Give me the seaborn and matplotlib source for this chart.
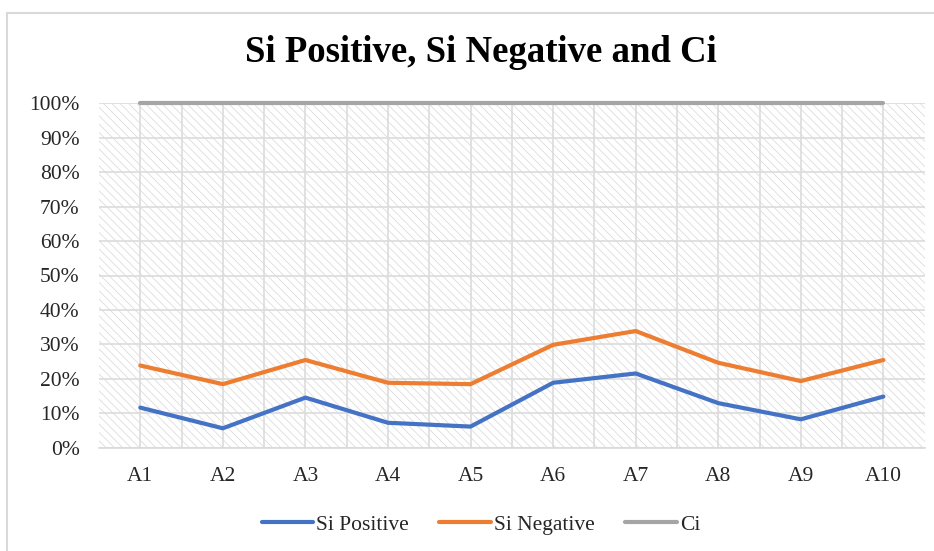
import pandas as pd
import seaborn as sns
import matplotlib.pyplot as plt
from matplotlib.patches import Rectangle
from matplotlib.lines import Line2D
from matplotlib.ticker import PercentFormatter, FixedLocator

plt.switch_backend("AGG")

categories = ["A1", "A2", "A3", "A4", "A5", "A6", "A7", "A8", "A9", "A10"]
si_positive = [11.7, 5.7, 14.6, 7.3, 6.2, 18.9, 21.6, 13.0, 8.3, 14.9]
si_negative = [23.9, 18.5, 25.5, 18.9, 18.5, 29.9, 33.9, 24.7, 19.4, 25.5]
ci = [100, 100, 100, 100, 100, 100, 100, 100, 100, 100]

series_names = ["Si Positive", "Si Negative", "Ci"]
colors = ["#4472C4", "#ED7D31", "#A5A5A5"]

df = pd.DataFrame({"Alt": categories, "Si Positive": si_positive,
                   "Si Negative": si_negative, "Ci": ci})
long_df = df.melt(id_vars="Alt", var_name="series", value_name="value")

sns.set_style("white")
plt.rcParams["font.family"] = ["Liberation Serif", "DejaVu Serif"]
plt.rcParams["hatch.linewidth"] = 0.5
plt.rcParams["hatch.color"] = "#D6D6D6"

fig = plt.figure(figsize=(9.34, 5.51), dpi=100)
ax = fig.add_axes([0.106, 0.187, 0.884, 0.626])

# hatched plot area background
ax.add_patch(Rectangle((0, 0), 1, 1, transform=ax.transAxes, facecolor="white",
                       edgecolor="#D6D6D6", hatch="\\" * 4, lw=0, zorder=0))

sns.lineplot(data=long_df, x="Alt", y="value", hue="series", hue_order=series_names,
             palette=colors, linewidth=3, ax=ax, legend=False, sort=False, zorder=3)
for ln in ax.lines:
    ln.set_clip_on(False)
    ln.set_solid_joinstyle("round")

ax.set_xlim(-0.5, len(categories) - 0.5)
ax.set_ylim(0, 100)
ax.set_yticks(range(0, 101, 10))
ax.yaxis.set_major_formatter(PercentFormatter(decimals=0))
ax.xaxis.set_minor_locator(FixedLocator([i + 0.5 for i in range(len(categories) - 1)]))
ax.grid(True, which="both", color="#DCDCDC", linewidth=1.2, zorder=1)
ax.set_axisbelow(True)
ax.tick_params(axis="both", which="both", length=0, labelsize=15.5, colors="#262626")
ax.tick_params(axis="x", pad=14)
ax.tick_params(axis="y", pad=14)
ax.set_xlabel("")
ax.set_ylabel("")
for s in ["top", "right", "left"]:
    ax.spines[s].set_visible(False)
ax.spines["bottom"].set_color("#D9D9D9")
ax.spines["bottom"].set_linewidth(1.2)

fig.text(0.515, 0.905, "Si Positive, Si Negative and Ci", ha="center", va="center",
         fontsize=26.5, fontweight="bold", color="black")

handles = [Line2D([0], [0], color=c, lw=3) for c in colors]
fig.legend(handles, series_names, loc="center", bbox_to_anchor=(0.515, 0.048), ncol=3,
           frameon=False, fontsize=15.5, handlelength=2.4, handletextpad=0.15,
           columnspacing=1.4)

# chart border (top and left visible)
fig.add_artist(Line2D([0.008, 1.0], [0.977, 0.977], transform=fig.transFigure,
                      color="#D9D9D9", lw=1.5))
fig.add_artist(Line2D([0.008, 0.008], [0.0, 0.977], transform=fig.transFigure,
                      color="#D9D9D9", lw=1.5))

fig.savefig("out.png", dpi=100, facecolor="white")
